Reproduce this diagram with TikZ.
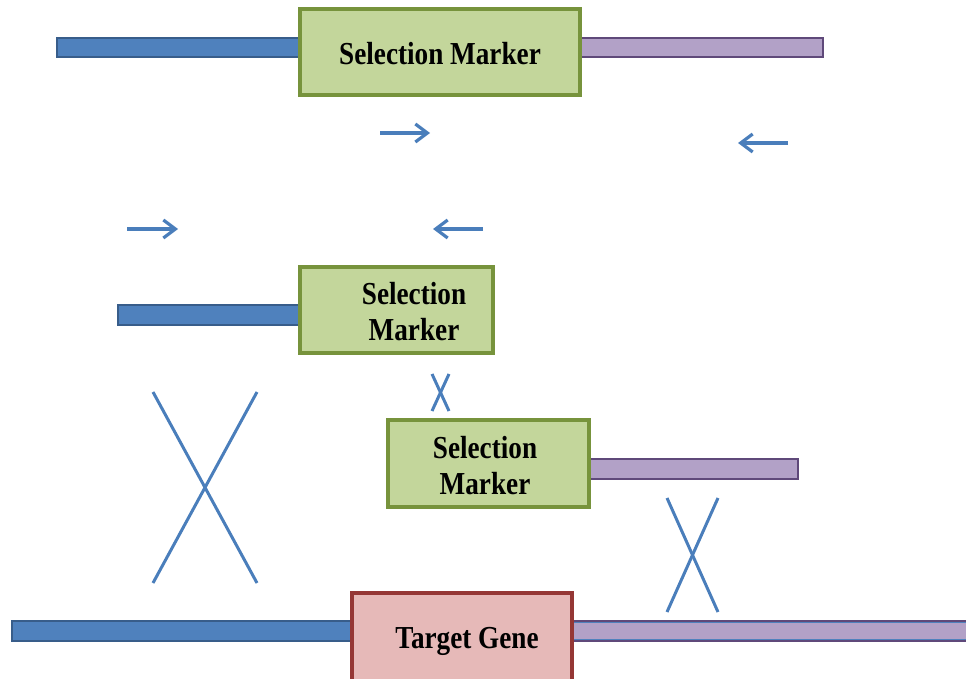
\documentclass[tikz,border=0pt]{standalone}
\usepackage{fontspec}
\setmainfont{Liberation Serif}
\newfontfamily\markfont[FakeStretch=0.85]{Liberation Serif}
\usetikzlibrary{arrows.meta, positioning}

\definecolor{armblue}{HTML}{4F81BD}
\definecolor{armblueline}{HTML}{385D8A}
\definecolor{armpurple}{HTML}{B2A1C7}
\definecolor{armpurpleline}{HTML}{5F497A}
\definecolor{markgreen}{HTML}{C3D69B}
\definecolor{markgreenline}{HTML}{77933C}
\definecolor{genered}{HTML}{E6B9B8}
\definecolor{generedline}{HTML}{953735}
\definecolor{primerblue}{HTML}{4A7EBB}

\begin{document}
\begin{tikzpicture}[x=1pt, y=-1pt,
    leftarm/.style={draw=armblueline, fill=armblue, line width=2.8pt},
    rightarm/.style={draw=armpurpleline, fill=armpurple, line width=2.8pt},
    markbox/.style={draw=markgreenline, fill=markgreen, line width=3.2pt, anchor=north west, inner sep=0pt, outer sep=0pt},
    genebox/.style={draw=generedline, fill=genered, line width=3.2pt, anchor=north west, inner sep=0pt, outer sep=0pt},
    boxtext/.style={font=\markfont\bfseries\fontsize{32}{36}\selectfont, align=center, inner sep=0pt},
    primer/.style={-{Straight Barb[length=12pt, width=18pt, line width=3.2pt]}, primerblue, line width=3.2pt},
    crossline/.style={primerblue, line width=3pt}]
    \useasboundingbox (0,0) rectangle (966,679);

    % plasmid construct
    \draw[leftarm] (57,38) rectangle (300,57);
    \draw[rightarm] (580,38) rectangle (823,57);
    \node[markbox, minimum width=280pt, minimum height=86pt] (m1) at (300,9) {};
    \node[boxtext] (t1) at (440,54) {Selection Marker};

    % primers
    \coordinate (p1s) at (380,133); \coordinate (p1e) at (430,133);
    \coordinate (p2s) at (788,143); \coordinate (p2e) at (738,143);
    \coordinate (p3s) at (127,229); \coordinate (p3e) at (178,229);
    \coordinate (p4s) at (483,229); \coordinate (p4e) at (433,229);
    \draw[primer] (p1s) -- (p1e);
    \draw[primer] (p2s) -- (p2e);
    \draw[primer] (p3s) -- (p3e);
    \draw[primer] (p4s) -- (p4e);

    % left fragment
    \draw[leftarm] (118,305) rectangle (300,325);
    \node[markbox, minimum width=193pt, minimum height=86pt] (m2) at (300,267) {};
    \node[boxtext] (t2) at (414,312) {Selection\\Marker};

    % right fragment
    \draw[rightarm] (589,459) rectangle (798,479);
    \node[markbox, minimum width=201pt, minimum height=87pt] (m3) at (388,420) {};
    \node[boxtext] (t3) at (485,466) {Selection\\Marker};

    % chromosome
    \draw[leftarm] (12,621) rectangle (975,641);
    \node[genebox, minimum width=220pt, minimum height=92pt] (g) at (352,593) {};
    \node[boxtext] (tg) at (467,641) {Target Gene};
    \fill[armpurple] (574,623) rectangle (975,639);
    \draw[armpurpleline, line width=2.8pt] (574,621) -- (975,621) (574,641) -- (975,641);

    % crossovers
    \coordinate (xa1) at (432,374); \coordinate (xa2) at (449,411);
    \coordinate (xa3) at (449,374); \coordinate (xa4) at (432,411);
    \draw[crossline] (xa1) -- (xa2);
    \draw[crossline] (xa3) -- (xa4);
    \coordinate (xb1) at (153,392); \coordinate (xb2) at (257,583);
    \coordinate (xb3) at (257,392); \coordinate (xb4) at (153,583);
    \draw[crossline] (xb1) -- (xb2);
    \draw[crossline] (xb3) -- (xb4);
    \coordinate (xc1) at (667,498); \coordinate (xc2) at (718,612);
    \coordinate (xc3) at (718,498); \coordinate (xc4) at (667,612);
    \draw[crossline] (xc1) -- (xc2);
    \draw[crossline] (xc3) -- (xc4);
\end{tikzpicture}
\end{document}
